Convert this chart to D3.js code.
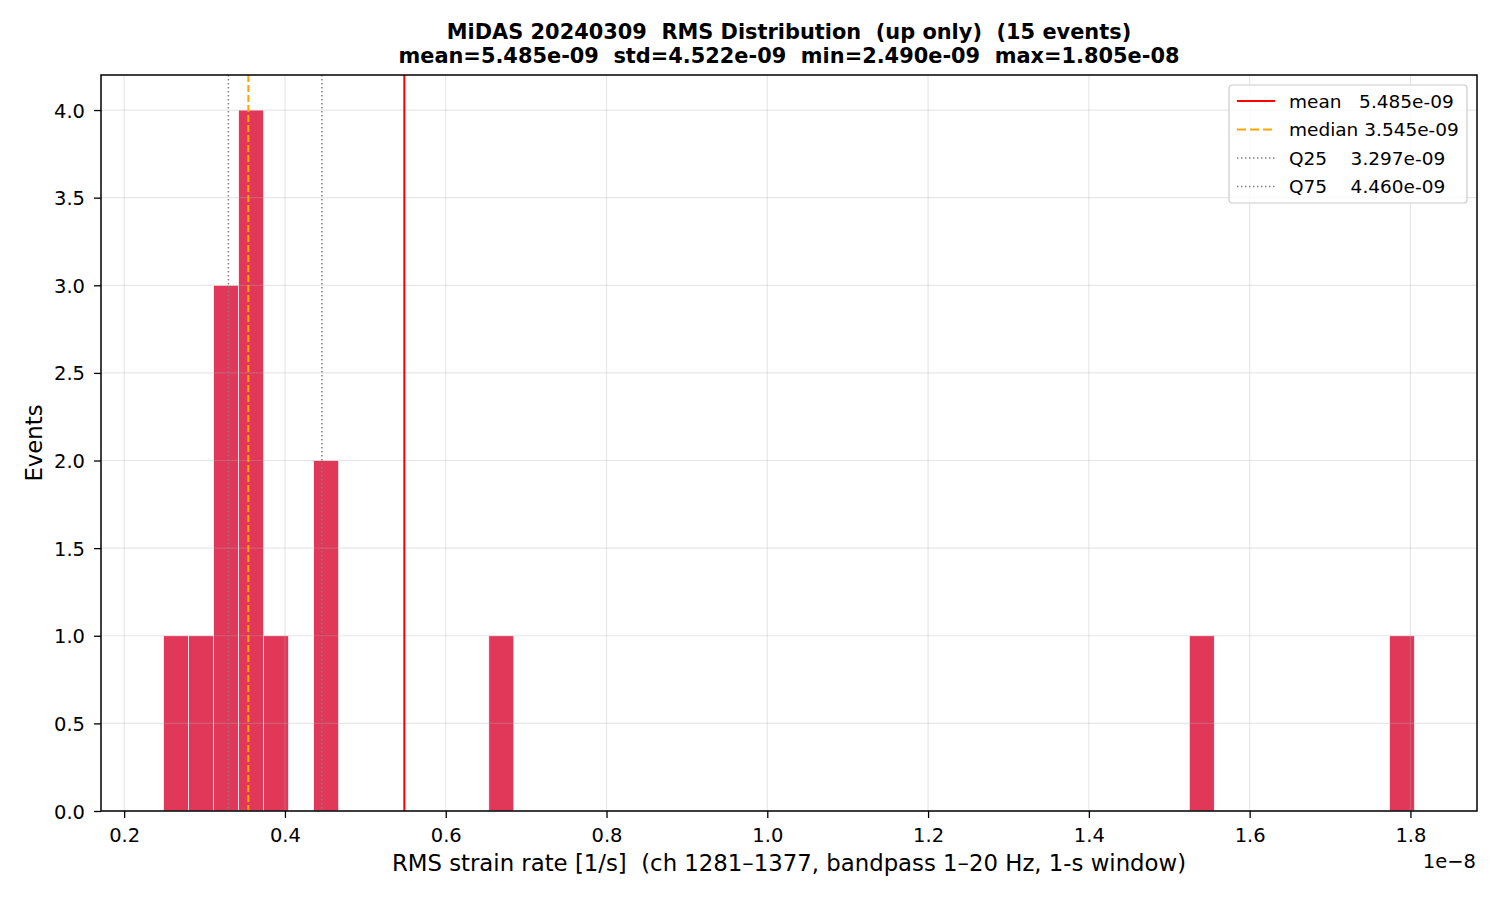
<!DOCTYPE html>
<html>
<head>
<meta charset="utf-8">
<script src="https://cdn.jsdelivr.net/npm/d3@7"></script>
<style>
  body { margin: 0; background: #fff; }
  svg text { font-family: "DejaVu Sans", sans-serif; }
</style>
</head>
<body>
<svg id="chart" width="1500" height="900"></svg>
<script>
// histogram of RMS values, x in units of 1e-8
var rmsMin = 0.2490, rmsMax = 1.805, nBins = 50;
var binIndex = [0, 1, 2, 3, 4, 6, 13, 41, 49];
var binCount = [1, 1, 3, 4, 1, 2, 1, 1, 1];

var statNames = ["mean", "median", "Q25", "Q75"];
var statValues = [0.5485, 0.3545, 0.3297, 0.4460];
var statLabels = ["mean   5.485e-09", "median 3.545e-09", "Q25    3.297e-09", "Q75    4.460e-09"];

var xTicks = [0.2, 0.4, 0.6, 0.8, 1.0, 1.2, 1.4, 1.6, 1.8];
var yTicks = [0, 0.5, 1, 1.5, 2, 2.5, 3, 3.5, 4];

var margin = {left: 101, right: 1477, top: 75, bottom: 811};
var svg = d3.select('#chart');

var binW = (rmsMax - rmsMin) / nBins;
var bars = binIndex.map(function (b, i) {
  return {x0: rmsMin + b * binW, x1: rmsMin + (b + 1) * binW, n: binCount[i]};
});

var pad = (rmsMax - rmsMin) * 0.05;
var x = d3.scaleLinear().domain([rmsMin - pad, rmsMax + pad]).range([margin.left, margin.right]);
var y = d3.scaleLinear().domain([0, 4.2]).range([margin.bottom, margin.top]);

// bars
svg.append('g')
  .selectAll('rect')
  .data(bars)
  .enter()
  .append('rect')
  .attr('x', function (d) { return x(d.x0); })
  .attr('width', function (d) { return x(d.x1) - x(d.x0); })
  .attr('y', function (d) { return y(d.n); })
  .attr('height', function (d) { return y(0) - y(d.n); })
  .attr('fill', '#dc143c')
  .attr('fill-opacity', 0.85)
  .attr('stroke', '#fff')
  .attr('stroke-width', 0.7);

// grid
var grid = svg.append('g').attr('stroke', '#b0b0b0').attr('stroke-opacity', 0.3).attr('stroke-width', 1.2);
grid.selectAll('.gx').data(xTicks).enter().append('line')
  .attr('x1', function (d) { return x(d); }).attr('x2', function (d) { return x(d); })
  .attr('y1', margin.top).attr('y2', margin.bottom);
grid.selectAll('.gy').data(yTicks).enter().append('line')
  .attr('y1', function (d) { return y(d); }).attr('y2', function (d) { return y(d); })
  .attr('x1', margin.left).attr('x2', margin.right);

// stat lines
var statStyle = {
  mean: {color: '#ff0000', dash: null, width: 2},
  median: {color: '#ffa500', dash: '7,3', width: 2},
  Q25: {color: '#808080', dash: '1.5,2.5', width: 1.5},
  Q75: {color: '#808080', dash: '1.5,2.5', width: 1.5}
};
svg.append('g')
  .selectAll('line')
  .data(statNames)
  .enter()
  .append('line')
  .attr('x1', function (d, i) { return x(statValues[i]); })
  .attr('x2', function (d, i) { return x(statValues[i]); })
  .attr('y1', margin.top).attr('y2', margin.bottom)
  .attr('stroke', function (d) { return statStyle[d].color; })
  .attr('stroke-width', function (d) { return statStyle[d].width; })
  .attr('stroke-dasharray', function (d) { return statStyle[d].dash; });

// axes
var xAxis = d3.axisBottom(x).tickValues(xTicks).tickFormat(d3.format('.1f')).tickSizeOuter(0).tickSize(7);
var yAxis = d3.axisLeft(y).tickValues(yTicks).tickFormat(d3.format('.1f')).tickSizeOuter(0).tickSize(7);

var gx = svg.append('g').attr('transform', 'translate(0,' + margin.bottom + ')').call(xAxis);
var gy = svg.append('g').attr('transform', 'translate(' + margin.left + ',0)').call(yAxis);
[gx, gy].forEach(function (g) {
  g.select('.domain').remove();
  g.selectAll('line').attr('stroke', '#000').attr('stroke-width', 1.3);
  g.selectAll('text').attr('font-size', 19.5).attr('fill', '#000').attr('font-family', 'DejaVu Sans');
});
gx.selectAll('text').attr('y', 31).attr('dy', null);
gy.selectAll('text').attr('x', -16).attr('dy', '0.36em');

// frame
svg.append('rect')
  .attr('x', margin.left).attr('y', margin.top)
  .attr('width', margin.right - margin.left).attr('height', margin.bottom - margin.top)
  .attr('fill', 'none').attr('stroke', '#000').attr('stroke-width', 1.5);

// labels
var cx = (margin.left + margin.right) / 2;
svg.append('text').attr('x', cx).attr('y', 39).attr('text-anchor', 'middle')
  .attr('font-size', 20.9).attr('font-weight', 'bold')
  .text('MiDAS 20240309  RMS Distribution  (up only)  (15 events)').style('white-space', 'pre');
svg.append('text').attr('x', cx).attr('y', 63).attr('text-anchor', 'middle')
  .attr('font-size', 20.9).attr('font-weight', 'bold')
  .text('mean=5.485e-09  std=4.522e-09  min=2.490e-09  max=1.805e-08').style('white-space', 'pre');
svg.append('text').attr('x', cx).attr('y', 871).attr('text-anchor', 'middle')
  .attr('font-size', 22.8)
  .text('RMS strain rate [1/s]  (ch 1281\u20131377, bandpass 1\u201320 Hz, 1-s window)').style('white-space', 'pre');
svg.append('text').attr('x', 1476).attr('y', 868).attr('text-anchor', 'end')
  .attr('font-size', 19.5).text('1e\u22128');
svg.append('text').attr('transform', 'translate(42,' + ((margin.top + margin.bottom) / 2) + ') rotate(-90)')
  .attr('text-anchor', 'middle').attr('font-size', 22.8).text('Events');

// legend
var lg = svg.append('g').attr('transform', 'translate(1229,85)');
lg.append('rect').attr('width', 238).attr('height', 118).attr('rx', 3)
  .attr('fill', '#fff').attr('fill-opacity', 0.8).attr('stroke', '#cccccc').attr('stroke-width', 1.2);
var rows = lg.selectAll('.row').data(statNames).enter().append('g')
  .attr('transform', function (d, i) { return 'translate(0,' + (16 + i * 28.5) + ')'; });
rows.append('line').attr('x1', 8).attr('x2', 46).attr('y1', 0).attr('y2', 0)
  .attr('stroke', function (d) { return statStyle[d].color; })
  .attr('stroke-width', function (d) { return statStyle[d].width; })
  .attr('stroke-dasharray', function (d) { return d === 'median' ? '9,4' : statStyle[d].dash; });
rows.append('text').attr('x', 60).attr('y', 6.5).attr('font-size', 18.5)
  .style('white-space', 'pre')
  .text(function (d, i) { return statLabels[i]; });
</script>
</body>
</html>
